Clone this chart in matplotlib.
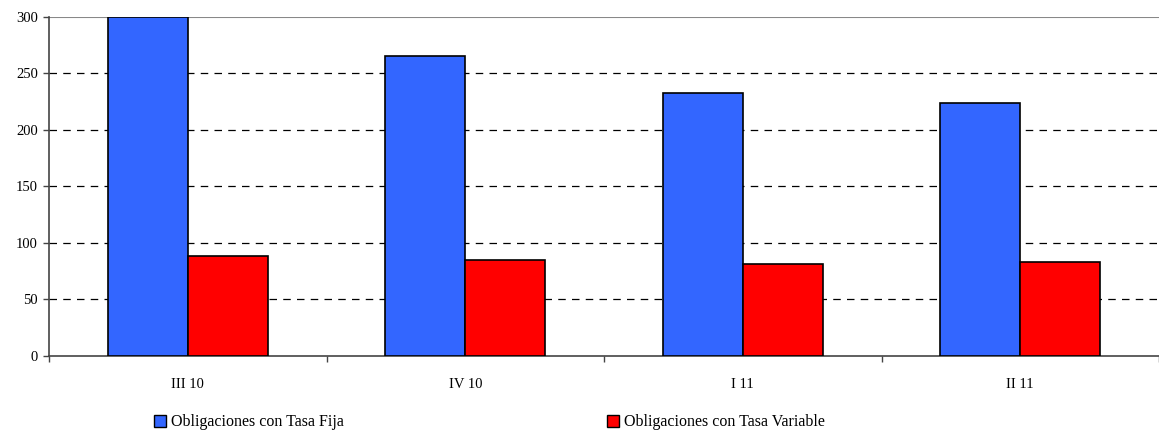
import numpy as np
import matplotlib.pyplot as plt
from matplotlib.patches import Patch

plt.rcParams['font.family'] = ['Liberation Serif', 'DejaVu Serif']

trimestres = ['III 10', 'IV 10', 'I 11', 'II 11']
tasa_fija = [300, 265, 233, 224]
tasa_variable = [88, 85, 81, 83]

azul = '#3366FF'
rojo = '#FF0000'

fig = plt.figure(figsize=(11.59, 4.32), dpi=100)
ax = fig.add_axes([0.0423, 0.176, 0.9577, 0.785])

x = np.arange(len(trimestres))
ancho = 0.288
ax.bar(x - ancho / 2, tasa_fija, ancho, color=azul, edgecolor='black', linewidth=1.2, zorder=3)
ax.bar(x + ancho / 2, tasa_variable, ancho, color=rojo, edgecolor='black', linewidth=1.2, zorder=3)

ax.set_xlim(-0.5, len(trimestres) - 0.5)
ax.set_ylim(0, 300)
ax.set_yticks(range(0, 301, 50))

# lineas de guia discontinuas, la de 300 es el borde superior gris
for v in range(50, 300, 50):
    ax.axhline(v, color='black', lw=0.9, dashes=(6, 5), zorder=1)
ax.axhline(300, color='#888888', lw=1.5, zorder=1)

ax.set_xticks(x)
ax.set_xticklabels(trimestres)
ax.set_xticks(np.arange(-0.5, len(trimestres)), minor=True)
ax.tick_params(axis='x', which='major', length=0, pad=16, labelsize=10.5)
ax.tick_params(axis='x', which='minor', length=4, width=1, color='#444444')
ax.tick_params(axis='y', length=4, width=1, color='#444444', labelsize=10.5, pad=4)

for s in ['top', 'right']:
    ax.spines[s].set_visible(False)
ax.spines['left'].set_color('#444444')
ax.spines['bottom'].set_color('#444444')
ax.spines['left'].set_linewidth(1.2)
ax.spines['bottom'].set_linewidth(1.2)

handles = [Patch(facecolor=azul, edgecolor='black'),
           Patch(facecolor=rojo, edgecolor='black')]
fig.legend(handles, ['Obligaciones con Tasa Fija', 'Obligaciones con Tasa Variable'],
           loc='center left', bbox_to_anchor=(0.126, 0.022), ncol=2, frameon=False,
           fontsize=11.5, handlelength=0.75, handleheight=0.75, handletextpad=0.3,
           columnspacing=16.5, borderpad=0)

fig.savefig('out.png', dpi=100)
